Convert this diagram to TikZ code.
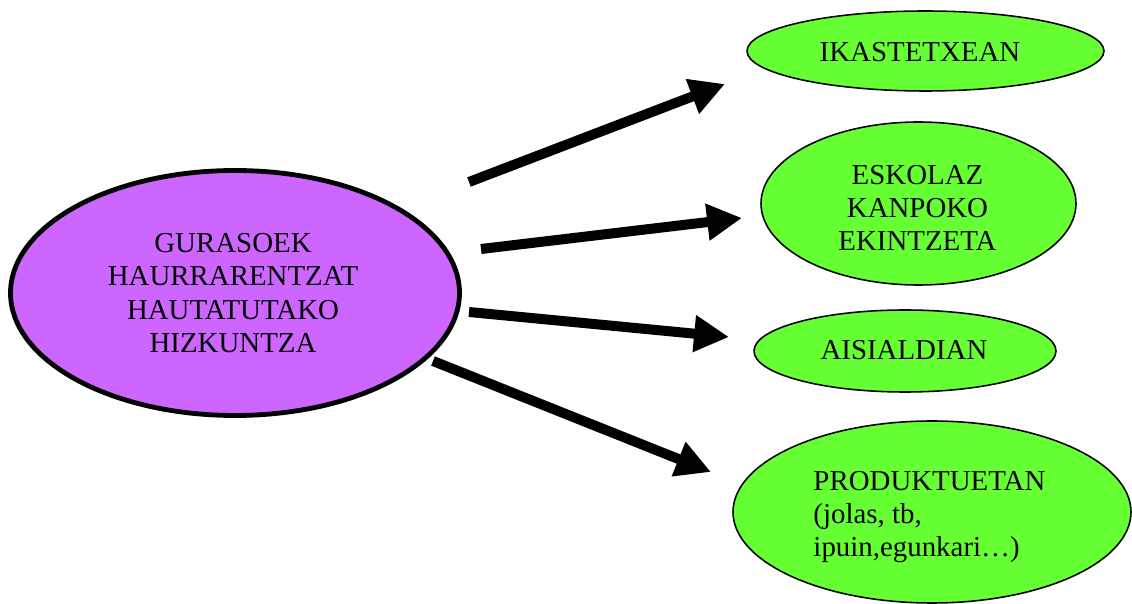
\documentclass[tikz,border=0pt]{standalone}
\usepackage{fontspec}
\setmainfont{Liberation Serif}
\usetikzlibrary{shapes.geometric,arrows.meta}
\definecolor{leaf}{RGB}{102,255,51}
\definecolor{lilac}{RGB}{204,102,255}
\newcommand{\pxu}{0.0146cm}
\begin{document}
\begin{tikzpicture}[x=\pxu,y=-\pxu,
    blob/.style={draw,ellipse,inner sep=0pt,fill=leaf,line width=0.65pt},
    words/.style={inner sep=0pt,align=center,font=\fontsize{12}{13.8}\selectfont},
    fat/.style={line width=4.15pt,-{Triangle[length=14.5pt,width=14.5pt]}}]
    \useasboundingbox (0,0) rectangle (1132,604);
    %% Main bubble
    \node[draw,ellipse,inner sep=0pt,fill=lilac,line width=2pt,minimum width=449*\pxu,minimum height=245*\pxu] (gur) at (235,293) {};
    \node[words] (gurT) at (233,293) {GURASOEK\\HAURRARENTZAT\\HAUTATUTAKO\\HIZKUNTZA};
    %% Places
    \node[blob,minimum width=357*\pxu,minimum height=80*\pxu] (ikas) at (925.5,51) {};
    \node[words] (ikasT) at (920,52) {IKASTETXEAN};
    \node[blob,minimum width=315*\pxu,minimum height=163*\pxu] (eskol) at (918.5,203.5) {};
    \node[words] (eskolT) at (917.5,208) {ESKOLAZ\\KANPOKO\\EKINTZETA};
    \node[blob,minimum width=302*\pxu,minimum height=82*\pxu] (aisi) at (905,351) {};
    \node[words] (aisiT) at (904,350.5) {AISIALDIAN};
    \node[blob,minimum width=398*\pxu,minimum height=182*\pxu] (prod) at (932,512) {};
    \node[words,align=left,anchor=west] (prodT) at (813,517) {PRODUKTUETAN\\(jolas, tb,\\ipuin,egunkari…)};
    %% Arrows
    \coordinate (g1) at (469,182); \coordinate (i1) at (725,84);
    \coordinate (g2) at (481,249); \coordinate (e1) at (742,218);
    \coordinate (g3) at (469,312); \coordinate (a1) at (729,337);
    \coordinate (g4) at (433,361); \coordinate (p1) at (711,472);
    \foreach \s/\t in {g1/i1,g2/e1,g3/a1,g4/p1}
        \draw[fat] (\s) -- (\t);
\end{tikzpicture}
\end{document}
